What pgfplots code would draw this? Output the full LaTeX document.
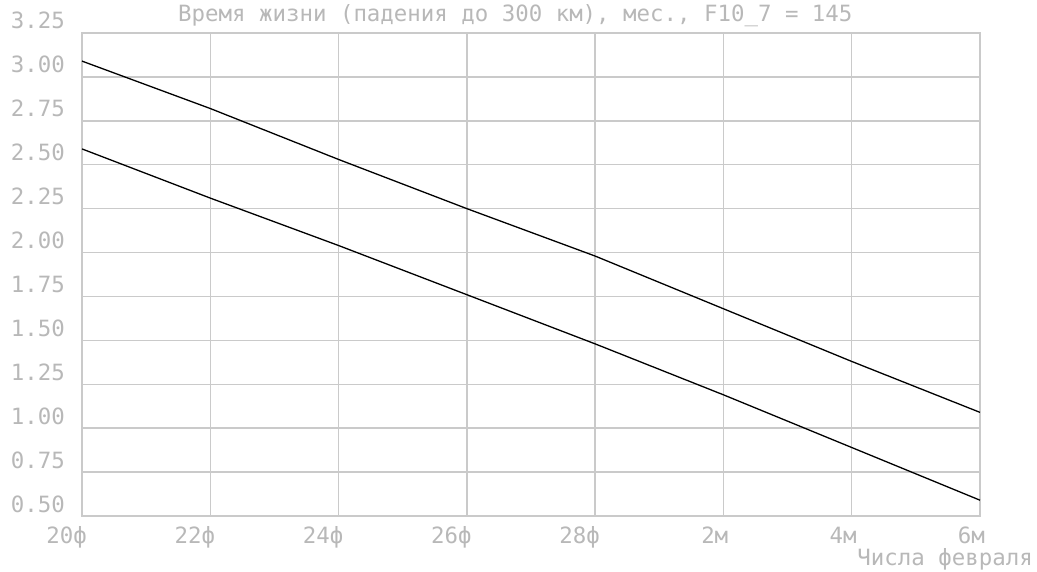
\documentclass[border=0pt]{standalone}
\usepackage{pgfplots}
\pgfplotsset{compat=1.18}
\usepackage{fontspec}
\setmainfont{DejaVu Sans Mono}
\definecolor{txtgray}{RGB}{184,184,184}
\definecolor{gridgray}{RGB}{202,202,202}
\begin{document}
\begin{tikzpicture}[font=\fontsize{22.4pt}{26pt}\selectfont]
\begin{axis}[
  at={(0,0)}, anchor=south west,
  scale only axis, width=898pt, height=483pt,
  xmin=0, xmax=14, ymin=0.5, ymax=3.25,
  xtick={0,2,4,6,8,10,12,14},
  xticklabels={20ф,22ф,24ф,26ф,28ф,2м,4м,6м},
  ytick={0.5,0.75,1,1.25,1.5,1.75,2,2.25,2.5,2.75,3,3.25},
  yticklabels={0.50,0.75,1.00,1.25,1.50,1.75,2.00,2.25,2.50,2.75,3.00,3.25},
  grid=major,
  major grid style={gridgray, line width=1.5pt},
  axis line style={gridgray, line width=1.5pt},
  major tick length=0pt,
  tick style={draw=none},
  xticklabel style={anchor=base east, inner sep=0pt, xshift=5pt, yshift=-27pt, text=txtgray},
  yticklabel style={anchor=base east, inner sep=0pt, xshift=-17pt, yshift=4pt, text=txtgray},
  title={Время жизни (падения до 300 км), мес., F10\_7 = 145},
  title style={at={(rel axis cs:0,1)}, anchor=base west, inner sep=0pt, xshift=96pt, yshift=5pt, text=txtgray},
  xlabel={Числа февраля},
  xlabel style={at={(rel axis cs:1,0)}, anchor=base east, inner sep=0pt, xshift=53pt, yshift=-49pt, text=txtgray},
]
\addplot[black, line width=1.3pt] coordinates {
  (0,3.09) (2,2.82) (4,2.53) (6,2.25) (8,1.98) (10,1.68) (12,1.38) (14,1.09)
};
\addplot[black, line width=1.3pt] coordinates {
  (0,2.59) (2,2.31) (4,2.04) (6,1.76) (8,1.48) (10,1.19) (12,0.89) (14,0.59)
};
\end{axis}
\pgfresetboundingbox
\path[use as bounding box] (-82pt,-55pt) rectangle (955pt,516pt);
\end{tikzpicture}
\end{document}
